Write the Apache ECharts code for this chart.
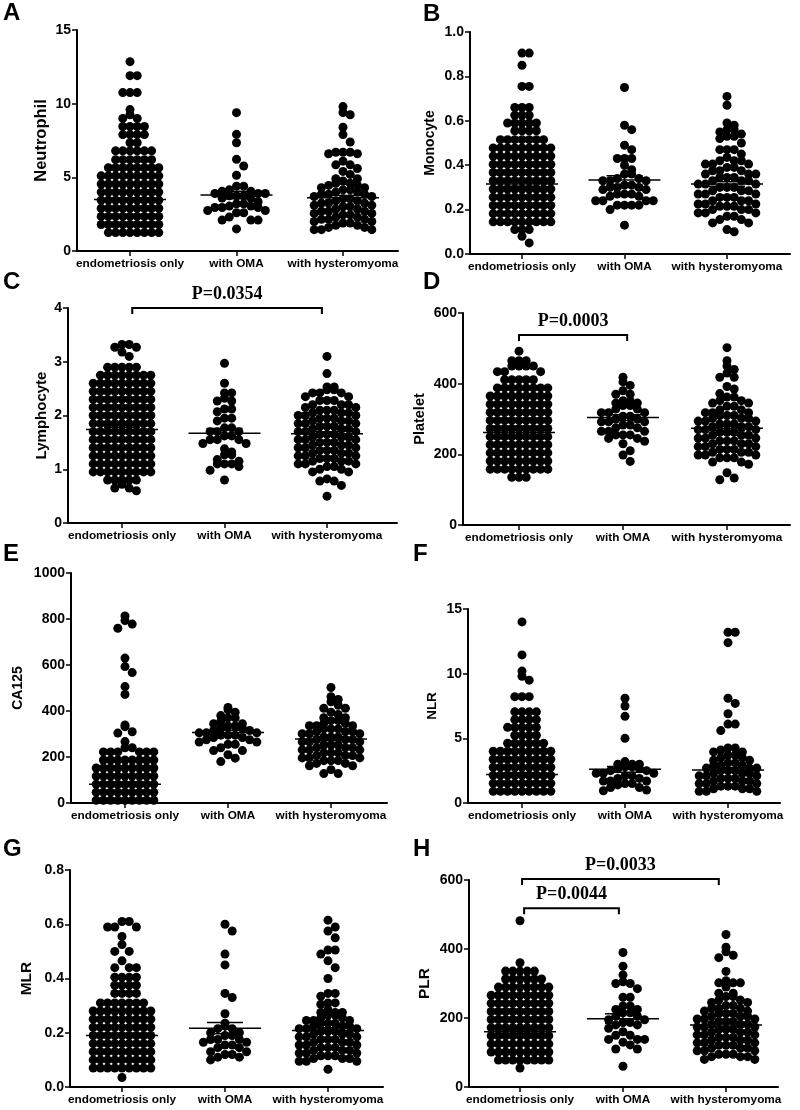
<!DOCTYPE html>
<html><head><meta charset="utf-8">
<script src="https://cdn.jsdelivr.net/npm/echarts@6/dist/echarts.min.js"></script>
<style>html,body{margin:0;padding:0;background:#fff}#chart{width:800px;height:1110px}</style>
</head><body><div id="chart"></div>
<script>
// ---------------- DATA ----------------
const categories = ['endometriosis only', 'with OMA', 'with hysteromyoma'];
const panelLetters = ['A','B','C','D','E','F','G','H'];
const yTitles = ['Neutrophil','Monocyte','Lymphocyte','Platelet','CA125','NLR','MLR','PLR'];
const yAxisMax = [15, 1.0, 4, 600, 1000, 15, 0.8, 600];
const yAxisStep = [5, 0.2, 1, 200, 200, 5, 0.2, 200];
const yAxisDecimals = [0, 1, 0, 0, 0, 0, 1, 0];

// each entry: [value, number of dots at that value]
const neutrophil_endo = [[1.25,8],[1.8,9],[2.35,9],[2.9,9],[3.45,9],[4.0,9],[4.55,9],[5.1,9],[5.65,8],[6.2,6],[6.8,6],[7.35,2],[7.9,4],[8.45,4],[9.0,2],[9.25,1],[9.6,1],[10.75,3],[11.9,2],[12.85,1]];
const neutrophil_oma = [[1.5,1],[2.1,3],[2.3,1],[2.6,2],[2.75,2],[2.95,3],[3.05,2],[3.2,2],[3.35,1],[3.6,2],[3.75,3],[3.9,3],[4.05,2],[4.15,1],[4.4,2],[5.14,1],[5.77,1],[6.22,1],[7.35,1],[7.92,1],[9.39,1]];
const neutrophil_hyst = [[1.45,3],[1.6,2],[1.75,2],[1.9,2],[2.0,2],[2.15,3],[2.3,2],[2.45,2],[2.55,2],[2.7,3],[2.85,2],[3.0,2],[3.1,2],[3.25,3],[3.4,2],[3.55,2],[3.7,2],[3.85,3],[4.0,2],[4.15,2],[4.3,2],[4.45,2],[4.6,2],[4.75,1],[4.9,2],[5.2,1],[5.4,1],[5.6,1],[5.85,2],[6.1,1],[6.6,2],[6.7,3],[7.4,1],[7.9,1],[8.4,1],[9.25,1],[9.4,1],[9.8,1]];
const neutrophil_mean = [3.5, 3.8, 3.62];
const neutrophil_sem = [0.12, 0.25, 0.15];

const monocyte_endo = [[0.05,1],[0.08,1],[0.11,3],[0.145,9],[0.182,9],[0.219,9],[0.256,9],[0.293,9],[0.33,9],[0.367,9],[0.404,9],[0.441,9],[0.478,9],[0.515,7],[0.555,4],[0.59,5],[0.625,3],[0.66,3],[0.755,2],[0.85,1],[0.905,2]];
const monocyte_oma = [[0.13,1],[0.20,1],[0.22,4],[0.24,4],[0.26,2],[0.27,3],[0.29,2],[0.30,3],[0.31,2],[0.33,3],[0.34,2],[0.36,2],[0.38,1],[0.40,1],[0.43,3],[0.47,1],[0.49,1],[0.56,1],[0.58,1],[0.75,1]];
const monocyte_hyst = [[0.10,1],[0.11,1],[0.14,2],[0.155,2],[0.17,2],[0.185,3],[0.2,3],[0.215,3],[0.225,3],[0.24,3],[0.255,3],[0.27,3],[0.285,3],[0.3,3],[0.315,3],[0.33,3],[0.345,3],[0.36,3],[0.375,3],[0.39,2],[0.405,3],[0.42,3],[0.435,1],[0.45,1],[0.47,3],[0.5,1],[0.52,1],[0.53,2],[0.54,1],[0.55,1],[0.56,2],[0.58,1],[0.59,1],[0.67,1],[0.71,1]];
const monocyte_mean = [0.315, 0.333, 0.315];
const monocyte_sem = [0.01, 0.02, 0.01];

const lymphocyte_endo = [[0.6,1],[0.65,2],[0.72,1],[0.8,5],[0.95,9],[1.1,9],[1.25,9],[1.4,9],[1.55,9],[1.7,9],[1.85,9],[2.0,9],[2.15,9],[2.3,9],[2.45,9],[2.6,9],[2.75,8],[2.9,5],[3.1,1],[3.18,1],[3.27,2],[3.32,2]];
const lymphocyte_oma = [[0.8,1],[0.98,1],[1.05,1],[1.1,3],[1.15,1],[1.18,1],[1.27,2],[1.32,1],[1.38,1],[1.48,2],[1.55,3],[1.62,2],[1.7,3],[1.77,2],[1.9,1],[1.95,2],[2.07,1],[2.12,2],[2.27,2],[2.32,1],[2.42,2],[2.6,1],[2.97,1]];
const lymphocyte_hyst = [[0.5,1],[0.7,1],[0.78,2],[0.82,1],[0.95,2],[1.0,2],[1.05,2],[1.1,3],[1.15,3],[1.2,3],[1.25,3],[1.3,3],[1.35,3],[1.4,3],[1.45,3],[1.5,3],[1.55,3],[1.6,3],[1.65,3],[1.7,3],[1.75,3],[1.8,3],[1.85,3],[1.9,3],[1.95,3],[2.0,3],[2.05,3],[2.1,3],[2.15,2],[2.2,3],[2.28,3],[2.35,2],[2.42,3],[2.48,2],[2.53,2],[2.78,1],[3.1,1]];
const lymphocyte_mean = [1.74, 1.67, 1.66];
const lymphocyte_sem = [0.04, 0.09, 0.04];
const lymphocyte_pvals = [[0, 2, 'P=0.0354']];

const platelet_endo = [[135,3],[158,9],[181,9],[204,9],[227,9],[250,9],[273,9],[296,9],[319,9],[342,9],[365,9],[388,8],[411,5],[434,3],[450,4],[465,3],[492,1]];
const platelet_oma = [[180,1],[198,1],[210,1],[230,1],[237,1],[245,2],[255,3],[265,3],[275,2],[283,2],[292,3],[300,2],[308,2],[318,3],[328,2],[338,2],[345,2],[352,2],[370,2],[380,1],[395,1],[405,1],[418,1]];
const platelet_hyst = [[128,1],[133,1],[148,1],[172,1],[178,2],[190,3],[198,3],[206,3],[214,3],[222,3],[230,3],[238,3],[246,3],[254,3],[262,3],[270,3],[278,3],[286,3],[294,3],[302,3],[310,3],[318,3],[326,2],[336,2],[345,2],[352,2],[362,2],[372,1],[385,1],[392,1],[418,2],[430,1],[440,1],[450,1],[465,1],[502,1]];
const platelet_mean = [262, 304, 274];
const platelet_sem = [6, 8, 7];
const platelet_pvals = [[0, 1, 'P=0.0003']];

const ca125_endo = [[12,9],[47,9],[82,9],[117,9],[152,9],[187,8],[222,6],[240,2],[267,1],[304,1],[310,1],[332,1],[339,1],[472,1],[506,1],[567,1],[593,1],[630,1],[760,1],[778,1],[793,1],[813,1]];
const ca125_oma = [[180,1],[195,1],[210,1],[228,2],[240,1],[255,2],[265,2],[275,2],[285,2],[295,3],[305,3],[315,2],[325,2],[335,2],[345,2],[355,1],[370,2],[380,1],[395,1],[405,1],[415,1]];
const ca125_hyst = [[128,2],[145,1],[162,2],[172,2],[184,3],[196,3],[206,3],[218,3],[231,3],[241,3],[252,3],[266,3],[276,3],[287,3],[301,3],[311,3],[322,3],[336,3],[346,2],[358,2],[371,2],[385,1],[395,1],[412,2],[425,1],[440,1],[450,1],[462,1],[502,1]];
const ca125_mean = [81, 307, 278];
const ca125_sem = [10, 9, 7];

const nlr_endo = [[0.9,9],[1.52,9],[2.14,9],[2.76,9],[3.38,9],[4.0,9],[4.62,6],[5.24,4],[5.85,5],[6.45,4],[7.05,4],[8.22,3],[9.5,1],[9.8,1],[10.2,1],[11.45,1],[14.0,1]];
const nlr_oma = [[0.95,1],[1.0,1],[1.2,2],[1.4,1],[1.5,2],[1.7,3],[1.9,2],[2.1,2],[2.3,3],[2.5,2],[2.65,2],[2.8,2],[3.0,3],[3.2,1],[5.0,1],[6.7,1],[7.5,1],[8.1,1]];
const nlr_hyst = [[0.9,3],[1.1,3],[1.3,3],[1.5,3],[1.7,3],[1.9,3],[2.1,3],[2.3,3],[2.5,3],[2.7,3],[2.9,3],[3.1,2],[3.3,2],[3.5,2],[3.7,2],[3.95,2],[4.1,1],[4.25,2],[5.6,1],[6.1,2],[6.9,1],[7.7,1],[8.1,1],[12.4,1],[13.2,2]];
const nlr_mean = [2.2, 2.6, 2.55];
const nlr_sem = [0.15, 0.22, 0.2];

const mlr_endo = [[0.035,1],[0.07,9],[0.1,9],[0.13,9],[0.16,9],[0.19,9],[0.22,9],[0.25,9],[0.28,9],[0.31,7],[0.345,4],[0.375,4],[0.405,4],[0.44,3],[0.465,1],[0.5,2],[0.525,1],[0.555,1],[0.59,3],[0.61,2]];
const mlr_oma = [[0.1,1],[0.11,2],[0.12,2],[0.13,2],[0.145,2],[0.155,2],[0.165,2],[0.175,3],[0.19,2],[0.2,2],[0.215,2],[0.225,1],[0.235,1],[0.27,1],[0.33,1],[0.345,1],[0.45,1],[0.49,1],[0.575,1],[0.6,1]];
const mlr_hyst = [[0.065,1],[0.095,3],[0.105,3],[0.115,3],[0.125,3],[0.135,3],[0.145,3],[0.155,3],[0.165,3],[0.175,3],[0.185,3],[0.195,3],[0.205,3],[0.215,3],[0.225,3],[0.235,3],[0.245,3],[0.255,2],[0.265,2],[0.275,3],[0.285,1],[0.305,1],[0.31,2],[0.335,1],[0.345,2],[0.4,1],[0.44,1],[0.465,1],[0.49,1],[0.505,2],[0.55,1],[0.575,1],[0.59,1],[0.615,1]];
const mlr_mean = [0.19, 0.217, 0.208];
const mlr_sem = [0.006, 0.021, 0.01];

const plr_endo = [[55,1],[78,8],[101.5,9],[125,9],[148.5,9],[172,9],[195.5,9],[219,9],[242.5,9],[266,9],[289.5,8],[313,6],[336,5],[360,1],[482,1]];
const plr_oma = [[60,1],[110,2],[122,1],[130,1],[138,3],[150,2],[160,1],[170,1],[180,2],[187,2],[195,2],[205,2],[215,2],[225,2],[235,2],[260,2],[285,1],[300,2],[305,1],[325,1],[350,1],[390,1]];
const plr_hyst = [[80,2],[88,3],[95,3],[105,3],[113,3],[121,3],[128,3],[136,3],[144,3],[151,3],[159,3],[167,3],[174,3],[182,3],[190,3],[197,3],[205,3],[213,3],[220,2],[228,3],[236,2],[245,2],[252,2],[262,2],[272,2],[290,1],[302,3],[308,1],[335,1],[375,1],[382,1],[392,1],[405,1],[442,1]];
const plr_mean = [160, 198, 180];
const plr_sem = [5, 14, 6];
const plr_pvals = [[0, 2, 'P=0.0033'], [0, 1, 'P=0.0044']];

// ---------------- LAYOUT (pixels) ----------------
const LAYOUT = [
  {x0:77,  xEnd:398, yTop:30,  y0:251,  c0:130, c2:343, lx:3,   ly:13,  gap:27, tf:16.5, br:[]},
  {x0:470, xEnd:790, yTop:32,  y0:254,  c0:522, c2:727, lx:423, ly:14,  gap:33, tf:14,   br:[]},
  {x0:68,  xEnd:397, yTop:308, y0:523,  c0:122, c2:327, lx:3,   ly:282, gap:19, tf:15,   br:[{level:4.0, d1:0.1, d2:-0.05}]},
  {x0:463, xEnd:790, yTop:313, y0:525,  c0:519, c2:727, lx:423, ly:282, gap:36, tf:14.5, br:[{level:538, d1:0, d2:0.04}]},
  {x0:71,  xEnd:387, yTop:573, y0:803,  c0:125, c2:331, lx:3,   ly:554, gap:46, tf:14,   br:[]},
  {x0:468, xEnd:780, yTop:609, y0:803,  c0:522, c2:728, lx:413, ly:554, gap:29, tf:13.5, br:[]},
  {x0:70,  xEnd:383, yTop:870, y0:1087, c0:122, c2:328, lx:3,   ly:849, gap:35, tf:15.5, br:[]},
  {x0:469, xEnd:778, yTop:880, y0:1087, c0:520, c2:726, lx:413, ly:849, gap:36, tf:15.5, br:[{level:603, d1:0.02, d2:-0.07},{level:518, d1:0.04, d2:-0.04}]}
];
const DOT = 9;        // dot diameter (px)
const XSTEP = 7.2;    // horizontal spacing of dots sharing a row (px)
const ROW = 8;        // values closer than this (px) share a row
const FONT = '"Liberation Sans", Arial, sans-serif';

const groups = [
  [neutrophil_endo, neutrophil_oma, neutrophil_hyst],
  [monocyte_endo, monocyte_oma, monocyte_hyst],
  [lymphocyte_endo, lymphocyte_oma, lymphocyte_hyst],
  [platelet_endo, platelet_oma, platelet_hyst],
  [ca125_endo, ca125_oma, ca125_hyst],
  [nlr_endo, nlr_oma, nlr_hyst],
  [mlr_endo, mlr_oma, mlr_hyst],
  [plr_endo, plr_oma, plr_hyst]
];
const means = [neutrophil_mean, monocyte_mean, lymphocyte_mean, platelet_mean, ca125_mean, nlr_mean, mlr_mean, plr_mean];
const sems = [neutrophil_sem, monocyte_sem, lymphocyte_sem, platelet_sem, ca125_sem, nlr_sem, mlr_sem, plr_sem];
const pvals = [[], [], lymphocyte_pvals, platelet_pvals, [], [], [], plr_pvals];

function expand(rows) {
  const v = [];
  rows.forEach(([val, n]) => { for (let i = 0; i < n; i++) v.push(val); });
  return v;
}
// Prism-like dot arrangement: points closer than one row share a row,
// highest in the middle, the others alternating right/left.
function swarm(values, pxPerUnit) {
  const sorted = values.slice().sort((a, b) => a - b);
  const bins = []; let cur = null;
  sorted.forEach(v => {
    if (!cur || (v - cur.start) * pxPerUnit >= 0.95 * ROW) { cur = {start: v, vals: []}; bins.push(cur); }
    cur.vals.push(v);
  });
  const out = [];
  bins.forEach(b => {
    const vs = b.vals.slice().sort((a, c) => c - a);
    vs.forEach((v, i) => {
      const k = i === 0 ? 0 : (i % 2 === 1 ? (i + 1) / 2 : -i / 2);
      out.push([v, k]);
    });
  });
  return out;
}

function renderDot(params, api) {
  const p = api.coord([api.value(0), api.value(1)]);
  return {type: 'circle', shape: {cx: p[0] + api.value(2) * XSTEP, cy: p[1], r: DOT / 2}, style: {fill: '#000'}};
}
function renderMean(params, api) {
  const c = api.value(0), m = api.value(1), e = api.value(2);
  const p = api.coord([c, m]), hi = api.coord([c, m + e]), lo = api.coord([c, m - e]);
  const st = {stroke: '#000', lineWidth: 1.5};
  return {type: 'group', children: [
    {type: 'line', shape: {x1: p[0] - 36, y1: p[1], x2: p[0] + 36, y2: p[1]}, style: st},
    {type: 'line', shape: {x1: p[0] - 18, y1: hi[1], x2: p[0] + 18, y2: hi[1]}, style: st},
    {type: 'line', shape: {x1: p[0] - 18, y1: lo[1], x2: p[0] + 18, y2: lo[1]}, style: st},
    {type: 'line', shape: {x1: p[0], y1: hi[1], x2: p[0], y2: lo[1]}, style: st}
  ]};
}
function makeBracketRenderer(labels) {
  return function (params, api) {
    const a = api.coord([api.value(0), api.value(2)]);
    const b = api.coord([api.value(1), api.value(2)]);
    return {type: 'group', children: [
      {type: 'polyline', shape: {points: [[a[0], a[1] + 6], [a[0], a[1]], [b[0], b[1]], [b[0], b[1] + 6]]},
       style: {stroke: '#000', lineWidth: 2, fill: 'none'}},
      {type: 'text', style: {text: labels[params.dataIndex], x: (a[0] + b[0]) / 2, y: a[1] - 14,
       align: 'center', verticalAlign: 'middle', fill: '#000',
       font: 'bold 18px "Liberation Serif", "Times New Roman", serif'}}
    ]};
  };
}

const grid = [], xAxis = [], yAxis = [], series = [], graphic = [];
LAYOUT.forEach((L, i) => {
  const s = (L.c2 - L.c0) / 2;
  const xmin = -(L.c0 - L.x0) / s, xmax = 2 + (L.xEnd - L.c2) / s;
  grid.push({left: L.x0, top: L.yTop, width: L.xEnd - L.x0, height: L.y0 - L.yTop});
  xAxis.push({
    gridIndex: i, type: 'value', min: xmin, max: xmax,
    axisLine: {show: true, onZero: false, lineStyle: {color: '#000', width: 2}},
    axisTick: {show: true, customValues: [0, 1, 2], length: 5, lineStyle: {color: '#000', width: 1.5}},
    axisLabel: {show: true, customValues: [0, 1, 2], formatter: v => categories[Math.round(v)],
      color: '#000', fontWeight: 'bold', fontSize: 11.8, fontFamily: FONT, margin: 7},
    splitLine: {show: false}
  });
  const dec = yAxisDecimals[i];
  yAxis.push({
    gridIndex: i, type: 'value', min: 0, max: yAxisMax[i], interval: yAxisStep[i],
    name: yTitles[i], nameLocation: 'middle', nameGap: L.gap,
    nameTextStyle: {color: '#000', fontWeight: 'bold', fontSize: L.tf, fontFamily: FONT},
    axisLine: {show: true, onZero: false, lineStyle: {color: '#000', width: 2}},
    axisTick: {show: true, length: 5, lineStyle: {color: '#000', width: 1.5}},
    axisLabel: {formatter: v => v.toFixed(dec), color: '#000', fontWeight: 'bold', fontSize: 14, fontFamily: FONT, margin: 6},
    splitLine: {show: false}
  });
  const pxPerUnit = (L.y0 - L.yTop) / yAxisMax[i];
  const dots = [];
  groups[i].forEach((rows, c) => {
    swarm(expand(rows), pxPerUnit).forEach(([v, k]) => dots.push([c, v, k]));
  });
  series.push({type: 'custom', xAxisIndex: i, yAxisIndex: i, data: dots, renderItem: renderDot, silent: true});
  series.push({type: 'custom', xAxisIndex: i, yAxisIndex: i,
    data: means[i].map((m, c) => [c, m, sems[i][c]]), renderItem: renderMean, silent: true});
  if (pvals[i].length) {
    series.push({type: 'custom', xAxisIndex: i, yAxisIndex: i, silent: true,
      data: pvals[i].map((pv, j) => [pv[0] + L.br[j].d1, pv[1] + L.br[j].d2, L.br[j].level]),
      renderItem: makeBracketRenderer(pvals[i].map(pv => pv[2]))});
  }
  graphic.push({type: 'text', x: L.lx, y: L.ly,
    style: {text: panelLetters[i], fill: '#000', font: 'bold 24px ' + FONT, verticalAlign: 'middle'}});
});

const chart = echarts.init(document.getElementById('chart'), null, {renderer: 'canvas'});
chart.setOption({animation: false, backgroundColor: '#fff', grid, xAxis, yAxis, series, graphic});
</script></body></html>
